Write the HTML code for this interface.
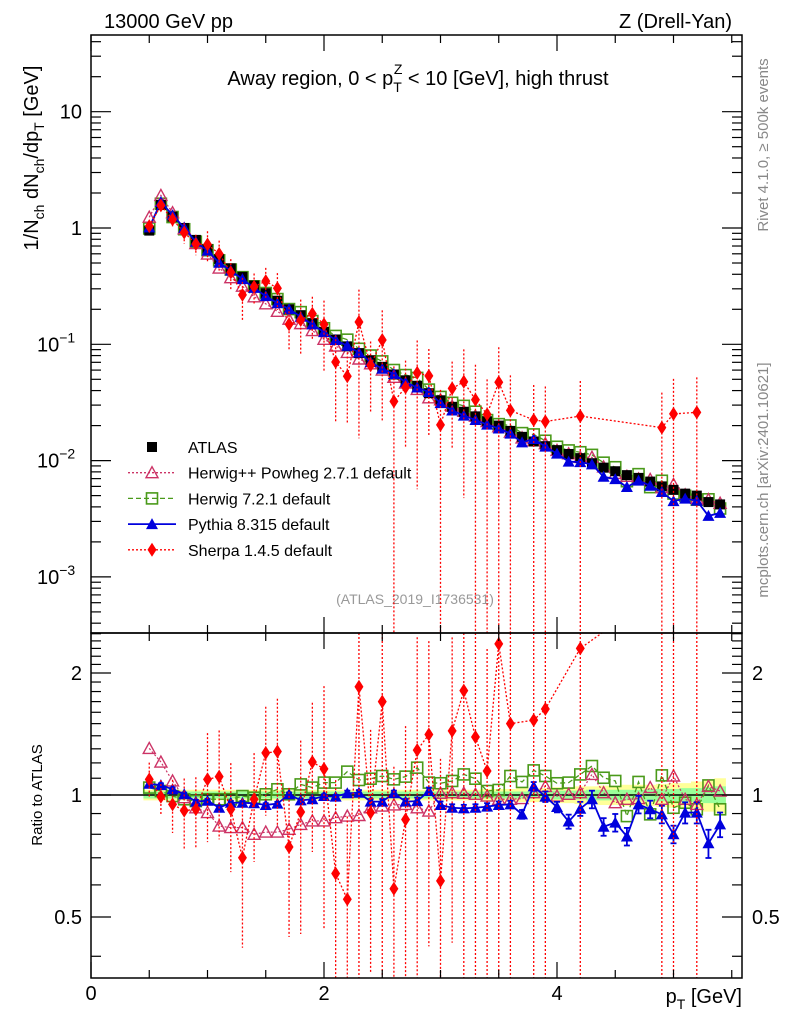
<!DOCTYPE html>
<html><head><meta charset="utf-8">
<style>
html,body{margin:0;padding:0;background:#fff;width:786px;height:1024px;overflow:hidden;}
svg{display:block;font-family:"Liberation Sans",sans-serif;}
</style></head>
<body>
<svg id="chart" width="786" height="1024" viewBox="0 0 786 1024" xmlns="http://www.w3.org/2000/svg">
<defs>
<clipPath id="cm"><rect x="91" y="35" width="651" height="598"/></clipPath>
<clipPath id="cr"><rect x="91" y="633" width="651" height="345"/></clipPath>
</defs>
<text x="104" y="28" font-size="20">13000 GeV pp</text>
<text x="732" y="28" font-size="20" text-anchor="end">Z (Drell-Yan)</text>
<text x="418" y="85" font-size="20" text-anchor="middle">Away region, 0 &lt; p<tspan font-size="14" dy="7">T</tspan><tspan font-size="14" dx="-8" dy="-18">Z</tspan><tspan dy="11"> &lt; 10 [GeV], high thrust</tspan></text>
<text transform="translate(768,145) rotate(-90)" font-size="15" fill="#888" text-anchor="middle">Rivet 4.1.0, ≥ 500k events</text>
<text transform="translate(768,480) rotate(-90)" font-size="15" fill="#888" text-anchor="middle">mcplots.cern.ch [arXiv:2401.10621]</text>
<text transform="translate(38,158) rotate(-90)" font-size="20" text-anchor="middle">1/N<tspan font-size="14" dy="6">ch</tspan><tspan dy="-6"> dN</tspan><tspan font-size="14" dy="6">ch</tspan><tspan dy="-6">/dp</tspan><tspan font-size="14" dy="6">T</tspan><tspan dy="-6"> [GeV]</tspan></text>
<text transform="translate(42,795) rotate(-90)" font-size="15" text-anchor="middle">Ratio to ATLAS</text>
<text x="742" y="1003" font-size="20" text-anchor="end">p<tspan font-size="14" dy="6">T</tspan><tspan dy="-6"> [GeV]</tspan></text>
<text x="415" y="604" font-size="14" fill="#999" text-anchor="middle">(ATLAS_2019_I1736531)</text>
<g id="plots"></g>
<rect x="91" y="35" width="651" height="598" fill="none" stroke="#000" stroke-width="1.5"/>
<rect x="91" y="633" width="651" height="345" fill="none" stroke="#000" stroke-width="1.5"/>
</svg>
<script>
const xs = [0.5,0.6,0.7,0.8,0.9,1.0,1.1,1.2,1.3,1.4,1.5,1.6,1.7,1.8,1.9,2.0,2.1,2.2,2.3,2.4,2.5,2.6,2.7,2.8,2.9,3.0,3.1,3.2,3.3,3.4,3.5,3.6,3.7,3.8,3.9,4.0,4.1,4.2,4.3,4.4,4.5,4.6,4.7,4.8,4.9,5.0,5.1,5.2,5.3,5.4];
const atlas = [0.95,1.58,1.25,1.0,0.79,0.66,0.54,0.45,0.38,0.32,0.275,0.237,0.20,0.178,0.152,0.128,0.11,0.096,0.084,0.073,0.064,0.055,0.049,0.044,0.038,0.033,0.029,0.0263,0.024,0.0218,0.020,0.018,0.016,0.0146,0.0133,0.0123,0.0114,0.0105,0.0095,0.0087,0.0081,0.0075,0.0071,0.0066,0.006,0.0056,0.0052,0.005,0.0044,0.0042];
const bandInner = [0.02,0.02,0.02,0.02,0.02,0.02,0.02,0.02,0.02,0.02,0.02,0.02,0.02,0.02,0.02,0.02,0.02,0.02,0.02,0.02,0.02,0.02,0.02,0.02,0.02,0.02,0.02,0.02,0.02,0.02,0.02,0.02,0.02,0.02,0.02,0.025,0.025,0.025,0.03,0.03,0.03,0.03,0.03,0.035,0.035,0.035,0.04,0.04,0.045,0.05];
const bandOuter = [0.03,0.03,0.03,0.03,0.03,0.03,0.03,0.03,0.03,0.03,0.03,0.03,0.03,0.03,0.03,0.03,0.03,0.03,0.03,0.03,0.03,0.03,0.03,0.03,0.03,0.03,0.03,0.03,0.03,0.035,0.035,0.035,0.04,0.04,0.04,0.045,0.045,0.05,0.05,0.055,0.055,0.06,0.06,0.06,0.065,0.07,0.07,0.08,0.09,0.1];
const herwigpp = [1.303,1.206,1.083,0.985,0.93,0.905,0.838,0.831,0.831,0.80,0.81,0.81,0.823,0.846,0.863,0.863,0.879,0.887,0.89,0.93,0.939,0.945,0.948,0.93,0.913,1.01,1.013,1.01,1.004,0.994,0.976,0.976,0.98,1.013,1.05,0.994,1.004,1.013,1.124,1.013,0.957,0.976,0.98,1.043,0.976,1.114,0.976,0.948,1.05,1.023];
const herwig7 = [1.043,1.023,0.994,0.976,0.966,0.976,0.976,0.976,0.994,0.985,1.004,1.033,1.004,1.062,1.043,1.073,1.073,1.142,1.089,1.097,1.114,1.093,1.11,1.168,1.073,1.069,1.083,1.124,1.097,1.023,1.029,1.114,1.077,1.15,1.114,1.069,1.073,1.124,1.179,1.103,1.083,0.887,1.077,0.896,1.118,0.93,0.957,0.922,1.056,0.922];
const pythia = [1.066,1.058,1.033,1.004,0.963,0.968,0.93,0.957,0.957,0.954,0.945,0.952,1.004,0.97,0.976,0.994,0.991,1.01,1.013,0.963,0.963,1.01,0.963,0.966,1.023,0.945,0.93,0.927,0.93,0.936,0.945,0.948,0.896,1.05,0.991,0.934,0.86,0.925,0.976,0.835,0.855,0.79,0.948,0.922,0.896,0.80,0.905,0.905,0.76,0.846];
const pythiaErr = [0.01,0.01,0.01,0.01,0.01,0.01,0.01,0.01,0.01,0.01,0.01,0.01,0.01,0.01,0.01,0.01,0.01,0.015,0.015,0.015,0.015,0.015,0.015,0.02,0.02,0.02,0.02,0.02,0.02,0.02,0.02,0.02,0.025,0.025,0.03,0.03,0.04,0.04,0.05,0.05,0.05,0.05,0.05,0.05,0.05,0.05,0.06,0.06,0.08,0.07];
const sherpa = [1.093,0.99,0.948,0.915,0.922,1.093,1.11,0.922,0.70,0.976,1.27,1.28,0.744,0.908,1.206,1.16,0.64,0.553,1.85,0.905,1.70,0.587,0.87,1.29,1.41,0.614,1.44,1.81,1.39,1.146,2.36,1.50,null,1.53,1.63,null,null,2.3,null,null,null,null,null,null,3.2,4.5,null,5.2,null,null];
const sherpaErr = [0.1,0.1,0.15,0.2,0.2,0.3,0.3,0.3,0.4,0.3,0.3,0.35,0.4,0.5,0.4,0.6,0.7,0.6,0.9,0.6,0.8,1,0.7,0.9,0.7,1,0.7,0.9,1,1,1,1,null,1,1,null,null,1,null,null,null,null,null,null,1,1,null,1,null,null];

const X = x => 91 + 116.5 * x;
const YM = v => Math.min(633, Math.max(35, 228 - 116.3 * Math.log10(v)));
const YR = r => Math.min(978, Math.max(633, 795 - 122 * Math.log2(r)));
const NS = 'http://www.w3.org/2000/svg';
const root = document.getElementById('plots');
function mk(tag, attrs, parent) {
  const e = document.createElementNS(NS, tag);
  for (const k in attrs) e.setAttribute(k, attrs[k]);
  (parent || root).appendChild(e);
  return e;
}
const gMain = mk('g', {'clip-path': 'url(#cm)'});


const gRat = mk('g', {'clip-path': 'url(#cr)'});



(function(){
  let outer = '', inner = '';
  for (let i = 0; i < xs.length; i++) {
    const x0 = X(xs[i] - 0.05), x1 = X(xs[i] + 0.05);
    outer += `M${x0},${YR(1+bandOuter[i])}H${x1}V${YR(1-bandOuter[i])}H${x0}Z`;
    inner += `M${x0},${YR(1+bandInner[i])}H${x1}V${YR(1-bandInner[i])}H${x0}Z`;
  }
  const b1 = mk('path', {d: outer, fill: '#ffff99'}, gRat);
  
  
  const b2 = mk('path', {d: inner, fill: '#99ff99'}, gRat);
  
  
})();
const one = mk('line', {x1: 91, x2: 742, y1: YR(1), y2: YR(1), stroke: '#000', 'stroke-width': 1.5}, gRat);



function marker(g, type, cx, cy, color) {
  let e;
  if (type === 'square') e = mk('rect', {x: cx-5, y: cy-5, width: 10, height: 10, fill: '#000'}, g);
  else if (type === 'osquare') e = mk('rect', {x: cx-5.5, y: cy-5.5, width: 11, height: 11, fill: 'none', stroke: color, 'stroke-width': 1.6}, g);
  else if (type === 'otri') e = mk('path', {d: `M${cx},${cy-6}L${cx+6},${cy+5}L${cx-6},${cy+5}Z`, fill: 'none', stroke: color, 'stroke-width': 1.4}, g);
  else if (type === 'tri') e = mk('path', {d: `M${cx},${cy-6}L${cx+6},${cy+5}L${cx-6},${cy+5}Z`, fill: color}, g);
  else e = mk('path', {d: `M${cx},${cy-7}L${cx+4.5},${cy}L${cx},${cy+7}L${cx-4.5},${cy}Z`, fill: color}, g);
  return e;
}

function series(name, ratios, errs, type, color, dash, width) {
  const gm = mk('g', {}, gMain);
  
  
  const gr = mk('g', {}, gRat);
  
  
  let pm = '', pr = '', started = false;
  const pts = [];
  for (let i = 0; i < xs.length; i++) {
    const r = ratios ? ratios[i] : 1;
    if (r == null) continue;
    const v = atlas[i] * r;
    const x = X(xs[i]);
    pm += (started ? 'L' : 'M') + x + ',' + YM(v);
    pr += (started ? 'L' : 'M') + x + ',' + (795 - 122 * Math.log2(r));
    started = true;
    pts.push([i, x, v, r]);
  }
  if (ratios) {
    const a = {fill: 'none', stroke: color, 'stroke-width': width};
    if (dash) a['stroke-dasharray'] = dash;
    mk('path', Object.assign({d: pm}, a), gm);
    mk('path', Object.assign({d: pr}, a), gr);
  }
  for (const [i, x, v, r] of pts) {
    if (errs && errs[i] != null) {
      const e = errs[i];
      const lo = e >= 1 ? 1e-9 : 1 - e;
      const eb = {stroke: color, 'stroke-width': dash ? 1.3 : 1.8};
      if (dash) eb['stroke-dasharray'] = '2,2';
      mk('line', Object.assign({x1: x, x2: x, y1: YM(v*(1+e)), y2: YM(v*lo)}, eb), gm);
      mk('line', Object.assign({x1: x, x2: x, y1: YR(r*(1+e)), y2: YR(r*lo)}, eb), gr);
      if (!dash) {
        mk('line', Object.assign({x1: x-3, x2: x+3, y1: YR(r*(1+e)), y2: YR(r*(1+e))}, eb), gr);
        mk('line', Object.assign({x1: x-3, x2: x+3, y1: YR(r*lo), y2: YR(r*lo)}, eb), gr);
      }
    }
    const m1 = marker(gm, type, x, YM(v), color);
    
    
    if (ratios && r < 2.6) {
      const m2 = marker(gr, type, x, YR(r), color);
      
      
    }
  }
}
series('herwig7', herwig7, null, 'osquare', '#4a9a1a', '5,3', 1.3);
series('herwigpp', herwigpp, null, 'otri', '#cc3366', '2,2', 1.2);
series('atlas', null, null, 'square', '#000', null, 1);
series('pythia', pythia, pythiaErr, 'tri', '#0000dd', null, 1.8);
series('sherpa', sherpa, sherpaErr, 'diamond', '#ff0000', '2,2', 1.3);

const axes = mk('g', {stroke: '#000', 'stroke-width': 1.2});


const xMaj = [0, 2, 4];
const xMajLab = ['0', '2', '4'];
for (let t = 0; t <= 5.5; t += 0.5) {
  const x = X(t), L = (t % 2 === 0) ? 16 : 8;
  for (const [yb, yt] of [[633, 35], [978, 633]]) {
    mk('line', {x1: x, x2: x, y1: yb, y2: yb - L}, axes);
    mk('line', {x1: x, x2: x, y1: yt, y2: yt + L}, axes);
  }
}
xMaj.forEach((t, i) => {
  const tx = mk('text', {x: X(t), y: 1000, 'font-size': 20, 'text-anchor': 'middle', stroke: 'none'}, axes);
  tx.textContent = xMajLab[i];
  
  
});
for (let d = -4; d <= 1; d++) {
  for (let m = 1; m <= 9; m++) {
    const v = m * Math.pow(10, d), y = 228 - 116.3 * Math.log10(v);
    if (y < 35 || y > 633) continue;
    const L = m === 1 ? 20 : 10;
    mk('line', {x1: 91, x2: 91 + L, y1: y, y2: y}, axes);
    mk('line', {x1: 742, x2: 742 - L, y1: y, y2: y}, axes);
  }
}
const yLabVals = [10, 1, 0.1, 0.01, 0.001];
const yLabBase = ['10', '1', '10', '10', '10'];
const yLabExp = ['', '', '−1', '−2', '−3'];
yLabVals.forEach((v, i) => {
  const tx = mk('text', {x: 82, y: YM(v) + 7, 'font-size': 20, 'text-anchor': 'end', stroke: 'none'}, axes);
  if (yLabExp[i]) {
    tx.textContent = yLabBase[i];
    const ts = mk('tspan', {'font-size': 14, dy: -9}, tx);
    ts.textContent = yLabExp[i];
    tx.setAttribute('text-anchor', 'start');
    tx.setAttribute('x', 37);
  } else tx.textContent = yLabBase[i];
  
  
});
const rTicks = [0.4,0.5,0.6,0.7,0.8,0.9,1,1.1,1.2,1.3,1.4,1.5,1.6,1.7,1.8,1.9,2,2.1,2.2,2.3,2.4,2.5];
for (const r of rTicks) {
  const y = 795 - 122 * Math.log2(r); if (y < 633 || y > 978) continue;
  const L = [0.5, 1, 2].includes(r) ? 20 : 10;
  mk('line', {x1: 91, x2: 91 + L, y1: y, y2: y}, axes);
  mk('line', {x1: 742, x2: 742 - L, y1: y, y2: y}, axes);
}
const rLabVals = [2, 1, 0.5];
const rLabText = ['2', '1', '0.5'];
rLabVals.forEach((r, i) => {
  const a = mk('text', {x: 82, y: YR(r) + 7, 'font-size': 20, 'text-anchor': 'end', stroke: 'none'}, axes);
  a.textContent = rLabText[i];
  
  
  const b = mk('text', {x: 752, y: YR(r) + 7, 'font-size': 20, stroke: 'none'}, axes);
  b.textContent = rLabText[i];
  
  
});

const legNames = ['ATLAS', 'Herwig++ Powheg 2.7.1 default', 'Herwig 7.2.1 default', 'Pythia 8.315 default', 'Sherpa 1.4.5 default'];
const legTypes = ['square', 'otri', 'osquare', 'tri', 'diamond'];
const legColors = ['#000', '#cc3366', '#4a9a1a', '#0000dd', '#ff0000'];
const legDash = [null, '2,2', '5,3', null, '2,2'];
const leg = mk('g', {});


legNames.forEach((n, i) => {
  const y = 447 + i * 25.7;
  const g = mk('g', {}, leg);
  
  
  if (i > 0) {
    const a = {x1: 128, x2: 176, y1: y, y2: y, stroke: legColors[i], 'stroke-width': i === 3 ? 1.8 : 1.3};
    if (legDash[i]) a['stroke-dasharray'] = legDash[i];
    mk('line', a, g);
  }
  marker(g, legTypes[i], 152, y, legColors[i]);
  const t = mk('text', {x: 188, y: y + 6, 'font-size': 16}, g);
  t.textContent = n;
});
</script>
</body></html>
